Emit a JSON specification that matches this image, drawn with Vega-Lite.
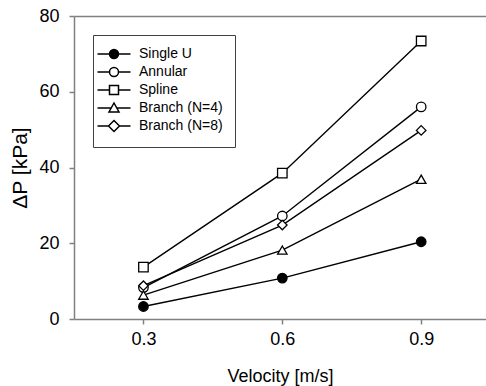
{
  "$schema": "https://vega.github.io/schema/vega-lite/v6.json",
  "width": 412,
  "height": 303,
  "autosize": {"type": "none"},
  "padding": {"left": 74, "top": 16, "right": 0, "bottom": 67},
  "background": "white",
  "config": {
    "view": {"stroke": null},
    "font": "Liberation Sans",
    "axis": {
      "domainColor": "#808080",
      "tickColor": "#808080",
      "domainWidth": 1.5,
      "tickWidth": 1.5,
      "labelColor": "black",
      "titleColor": "black",
      "labelFont": "Liberation Sans",
      "titleFont": "Liberation Sans",
      "titleFontWeight": "normal",
      "labelFontSize": 18,
      "titleFontSize": 18,
      "tickSize": 5,
      "grid": false
    }
  },
  "data": {
    "values": [
      {"series": "Single U", "v": 0.3, "dp": 3.3},
      {"series": "Single U", "v": 0.6, "dp": 10.8},
      {"series": "Single U", "v": 0.9, "dp": 20.4},
      {"series": "Annular", "v": 0.3, "dp": 8.3},
      {"series": "Annular", "v": 0.6, "dp": 27.2},
      {"series": "Annular", "v": 0.9, "dp": 56.0},
      {"series": "Spline", "v": 0.3, "dp": 13.7},
      {"series": "Spline", "v": 0.6, "dp": 38.5},
      {"series": "Spline", "v": 0.9, "dp": 73.4},
      {"series": "Branch (N=4)", "v": 0.3, "dp": 6.3},
      {"series": "Branch (N=4)", "v": 0.6, "dp": 18.2},
      {"series": "Branch (N=4)", "v": 0.9, "dp": 36.9},
      {"series": "Branch (N=8)", "v": 0.3, "dp": 8.8},
      {"series": "Branch (N=8)", "v": 0.6, "dp": 24.8},
      {"series": "Branch (N=8)", "v": 0.9, "dp": 49.8}
    ]
  },
  "layer": [
    {
      "mark": {"type": "line", "color": "black", "strokeWidth": 1.4},
      "encoding": {
        "x": {
          "field": "v", "type": "quantitative",
          "scale": {"domain": [0.15, 1.04], "nice": false, "zero": false},
          "axis": {"values": [0.3, 0.6, 0.9], "format": ".1f", "title": "Velocity [m/s]", "labelPadding": 6, "titlePadding": 19}
        },
        "y": {
          "field": "dp", "type": "quantitative",
          "scale": {"domain": [0, 80], "nice": false},
          "axis": {"values": [0, 20, 40, 60, 80], "title": "ΔP [kPa]", "titleFontSize": 21, "labelPadding": 10, "titlePadding": 8}
        },
        "detail": {"field": "series"}
      }
    },
    {
      "mark": {"type": "point", "filled": true, "stroke": "black", "strokeWidth": 1.3, "size": 90, "opacity": 1},
      "encoding": {
        "x": {"field": "v", "type": "quantitative", "axis": {"orient": "top", "labels": false, "ticks": false, "title": null}},
        "y": {"field": "dp", "type": "quantitative"},
        "shape": {
          "field": "series",
          "scale": {"domain": ["Single U", "Annular", "Spline", "Branch (N=4)", "Branch (N=8)"], "range": ["circle", "circle", "square", "triangle-up", "diamond"]},
          "legend": null
        },
        "fill": {
          "field": "series",
          "scale": {"domain": ["Single U", "Annular", "Spline", "Branch (N=4)", "Branch (N=8)"], "range": ["black", "white", "white", "white", "white"]},
          "legend": null
        }
      }
    },
    {
      "mark": {"type": "point", "filled": true, "fill": "white", "stroke": "black", "strokeWidth": 1.3, "opacity": 0},
      "encoding": {
        "x": {"field": "v", "type": "quantitative", "axis": null},
        "y": {"field": "dp", "type": "quantitative"},
        "shape": {
          "field": "series",
          "scale": {
            "domain": ["Single U", "Annular", "Spline", "Branch (N=4)", "Branch (N=8)"],
            "range": [
              "M-3.3,0H-0.9M0.9,0H3.3M0.9,0A0.9,0.9,0,1,1,-0.9,0A0.9,0.9,0,1,1,0.9,0ZM0.68,0A0.68,0.68,0,1,1,-0.68,0A0.68,0.68,0,1,1,0.68,0ZM0.46,0A0.46,0.46,0,1,1,-0.46,0A0.46,0.46,0,1,1,0.46,0ZM0.24,0A0.24,0.24,0,1,1,-0.24,0A0.24,0.24,0,1,1,0.24,0ZM-0.2,0H0.2",
              "M-3.3,0H-0.9M0.9,0H3.3M0.9,0A0.9,0.9,0,1,1,-0.9,0A0.9,0.9,0,1,1,0.9,0Z",
              "M-3.3,0H-0.9M0.9,0H3.3M-0.9,-0.9H0.9V0.9H-0.9Z",
              "M-3.3,0H-0.56M0.56,0H3.3M0,-1L1,0.8L-1,0.8Z",
              "M-3.3,0H-1.1M1.1,0H3.3M0,-1.1L1.1,0L0,1.1L-1.1,0Z"
            ]
          },
          "legend": {
            "title": null, "orient": "top-left", "offset": 19,
            "strokeColor": "#404040", "fillColor": "white", "padding": 12,
            "symbolSize": 100, "symbolOffset": 2, "labelOffset": 18,
            "labelFontSize": 14, "labelFont": "Liberation Sans", "labelColor": "black", "rowPadding": 2,
            "encode": {"symbols": {"update": {
              "opacity": {"value": 1},
              "fill": {"value": "white"},
              "stroke": {"value": "black"},
              "strokeWidth": {"value": 1.3}
            }}}
          }
        }
      }
    }
  ],
  "resolve": {"scale": {"shape": "independent", "fill": "independent"}, "axis": {"x": "independent"}}
}
